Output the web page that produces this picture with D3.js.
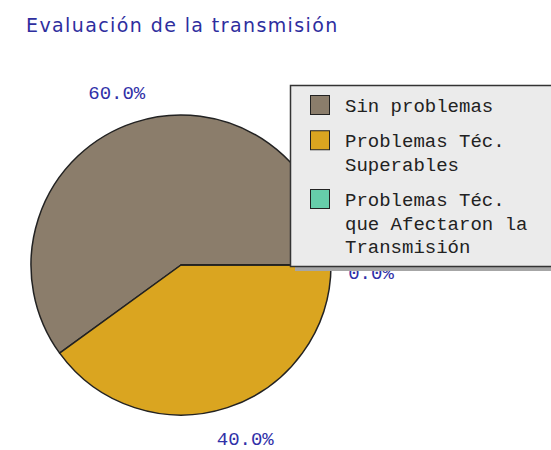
<!DOCTYPE html>
<html>
<head>
<meta charset="utf-8" />
<title>Evaluación de la transmisión</title>
<style>
html, body {
    padding: 0px;
    margin: 0px;
    background: #fff;
}
.title {
    font-family: "DejaVu Sans", Verdana, sans-serif;
    font-size: 19px;
    letter-spacing: 1.4px;
    fill: #2e2e9e;
}
.pct, .leg text {
    font-family: "Liberation Mono", "DejaVu Sans Mono", monospace;
    font-size: 19px;
}
.pct { fill: #3030a8; }
.leg text { fill: #222; }
</style>
</head>
<body>
<svg id="chart" width="551" height="450"></svg>
<script src="https://cdnjs.cloudflare.com/ajax/libs/d3/7.8.5/d3.min.js"></script>
<script>
!(function(){
    "use strict"

    var categories = ["Sin problemas", "Problemas Téc. Superables", "Problemas Téc. que Afectaron la Transmisión"];
    var legendLines = [["Sin problemas"], ["Problemas Téc.", "Superables"], ["Problemas Téc.", "que Afectaron la", "Transmisión"]];
    var values = [60, 40, 0];
    var colors = ["#8b7d6b", "#daa520", "#66cdaa"];

    var svg = d3.select("#chart");
    var cx = 181, cy = 265, r = 150;

    svg.append("text").attr("class", "title")
        .attr("x", 26).attr("y", 32)
        .text("Evaluación de la transmisión");

    // slices start at 3 o'clock and go counterclockwise
    var pie = d3.pie().sort(null)
        .startAngle(Math.PI / 2)
        .endAngle(Math.PI / 2 - 2 * Math.PI);
    var arcs = pie(values);
    var arc = d3.arc().innerRadius(0).outerRadius(r);
    var total = d3.sum(values);

    var g = svg.append("g").attr("transform", "translate(" + cx + "," + cy + ")");
    g.selectAll("path")
        .data(arcs)
        .enter()
        .append("path")
        .attr("d", arc)
        .attr("fill", function(d, i){ return colors[i]; })
        .attr("stroke", "#222")
        .attr("stroke-width", 1.5)
        .attr("stroke-linejoin", "round");

    var labelArc = d3.arc().innerRadius(182).outerRadius(182);
    g.selectAll("text.pct")
        .data(arcs)
        .enter()
        .append("text")
        .attr("class", "pct")
        .attr("transform", function(d){
            var c = labelArc.centroid(d);
            c[0] += c[0] < -1 ? -8 : (c[0] > 1 ? 8 : 0);
            // label lying on the horizontal sits a little below it
            if (Math.abs(c[1]) < 20) c[1] += 7;
            return "translate(" + c + ")";
        })
        .attr("text-anchor", "middle")
        .attr("dy", "0.35em")
        .text(function(d){ return (100 * d.value / total).toFixed(1) + "%"; });

    // legend
    var lx = 290, ly = 85, lw = 270, lh = 181;
    var leg = svg.append("g").attr("class", "leg");
    leg.append("rect")
        .attr("x", lx + 5).attr("y", ly + 5)
        .attr("width", lw).attr("height", lh)
        .attr("fill", "#a6a6a6");
    leg.append("rect")
        .attr("x", lx + 0.5).attr("y", ly + 0.5)
        .attr("width", lw).attr("height", lh)
        .attr("fill", "#ebebeb")
        .attr("stroke", "#333")
        .attr("stroke-width", 1.5);

    var lineH = 23.5;
    var row = 0;
    legendLines.forEach(function(lines, i){
        var base = ly + 27 + row * lineH;
        leg.append("rect")
            .attr("x", 310.5).attr("y", base - 16.5)
            .attr("width", 19).attr("height", 19)
            .attr("fill", colors[i])
            .attr("stroke", "#222");
        lines.forEach(function(t, j){
            leg.append("text")
                .attr("x", 345).attr("y", base + j * lineH)
                .text(t);
        });
        row += lines.length + 0.5;
    });
}());
</script>
</body>
</html>
